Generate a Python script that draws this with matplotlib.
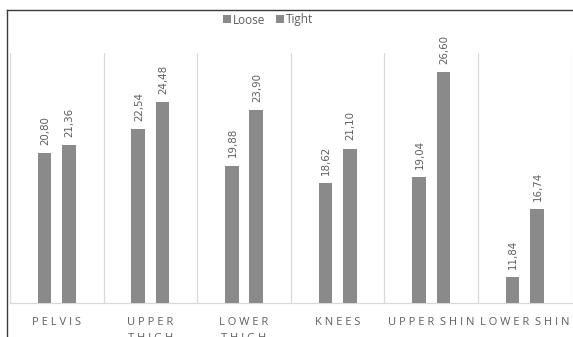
import matplotlib
matplotlib.use("Agg")
import matplotlib.pyplot as plt
from matplotlib.lines import Line2D
import numpy as np

# Body regions and measured values for each garment fit
categories = ["PELVIS", "UPPER\nTHIGH", "LOWER\nTHIGH", "KNEES", "UPPER SHIN", "LOWER SHIN"]
loose = [20.80, 22.54, 19.88, 18.62, 19.04, 11.84]
tight = [21.36, 24.48, 23.90, 21.10, 26.60, 16.74]
series_names = ["Loose", "Tight"]

W, H = 573, 337
BAR_COLOR = "#8a8a8a"
TEXT_COLOR = "#5e5e5e"
GRID_COLOR = "#d9d9d9"


def spaced(label):
    # widen the letters of a label; word gaps get extra room
    lines = []
    for line in label.split("\n"):
        words = [" ".join(w) for w in line.split(" ")]
        lines.append("  ".join(words))
    return "\n".join(lines)


fig = plt.figure(figsize=(W / 100, H / 100), dpi=100)
fig.patch.set_facecolor("white")

left, right, bottom, top = 10, 571.6, 303, 53
ax = fig.add_axes([left / W, 1 - bottom / H, (right - left) / W, (bottom - top) / H])

x = np.arange(len(categories))
bw = 0.145
off = 0.13
b1 = ax.bar(x - off, loose, bw, color=BAR_COLOR, label=series_names[0], zorder=3)
b2 = ax.bar(x + off, tight, bw, color=BAR_COLOR, label=series_names[1], zorder=3)

ax.set_xlim(-0.5, len(categories) - 0.5)
ax.set_ylim(10, 28)

for bars, vals in ((b1, loose), (b2, tight)):
    for rect, v in zip(bars, vals):
        ax.annotate(f"{v:.2f}".replace(".", ","),
                    xy=(rect.get_x() + rect.get_width() / 2, v),
                    xytext=(0.5, 6), textcoords="offset points",
                    rotation=90, ha="center", va="bottom",
                    fontsize=7.4, color=TEXT_COLOR, family="DejaVu Sans")

ax.set_xticks(x)
ax.set_xticklabels([spaced(c) for c in categories], fontsize=8, color=TEXT_COLOR,
                   family=["Open Sans", "DejaVu Sans"], linespacing=1.6)
ax.tick_params(axis="x", length=0, pad=10)
ax.set_yticks([])
ax.set_xticks(np.arange(-0.5, len(categories), 1.0), minor=True)
ax.tick_params(axis="x", which="minor", length=0)
ax.grid(True, axis="x", which="minor", color=GRID_COLOR, linewidth=0.9, zorder=0)
ax.grid(False, axis="x", which="major")

for s in ("top", "left", "right"):
    ax.spines[s].set_visible(False)
ax.spines["bottom"].set_color(GRID_COLOR)
ax.spines["bottom"].set_linewidth(0.9)

leg = fig.legend(loc="center", bbox_to_anchor=(268 / W, 1 - 20 / H), ncol=2,
                 frameon=False, handlelength=0.65, handleheight=0.65,
                 handletextpad=0.2, columnspacing=0.9,
                 prop={"family": ["Open Sans", "DejaVu Sans"], "size": 8.5})
for t in leg.get_texts():
    t.set_color(TEXT_COLOR)

# outer chart border (left and top edges)
fig.add_artist(Line2D([7 / W, 7 / W], [0, 1 - 10 / H], color="#3a3a3a", linewidth=1.0))
fig.add_artist(Line2D([7 / W, 1], [1 - 10 / H, 1 - 10 / H], color="#3a3a3a", linewidth=1.0))

fig.savefig("out.png", dpi=100, facecolor="white")
